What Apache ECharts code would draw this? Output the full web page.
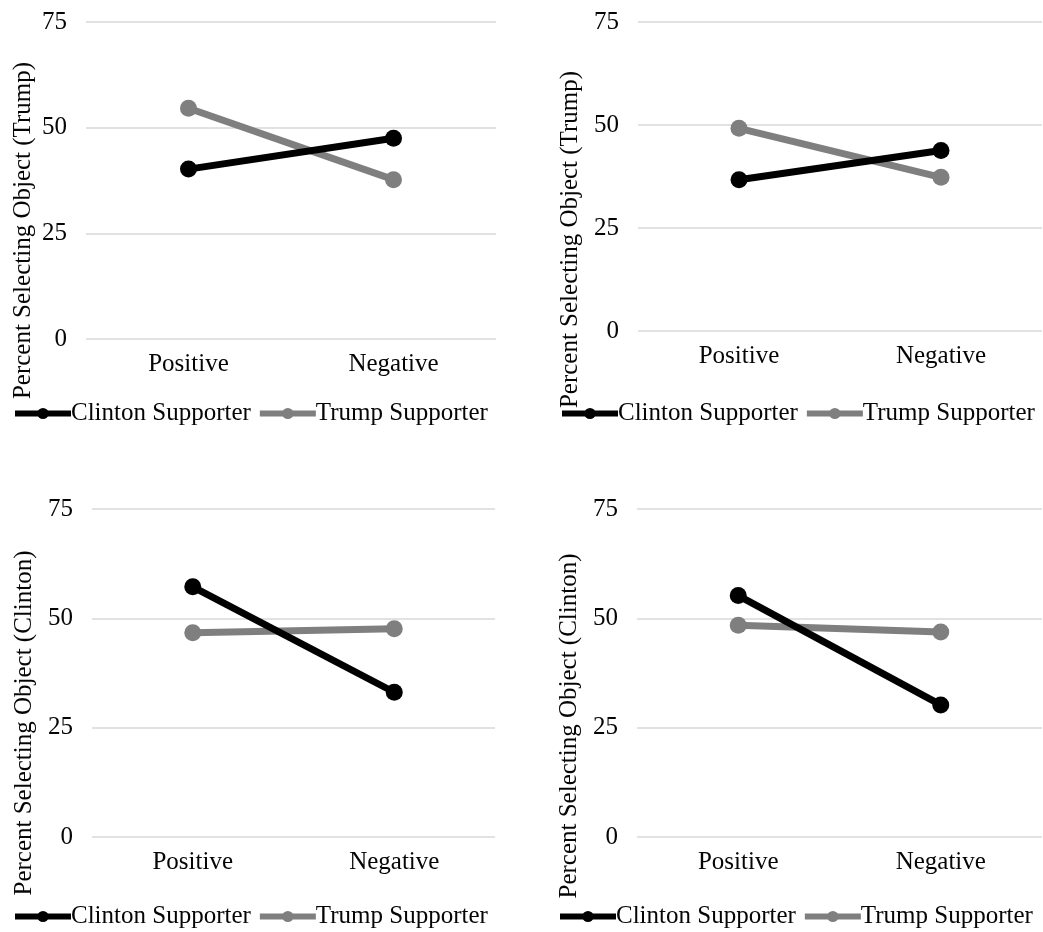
<!DOCTYPE html>
<html>
<head>
<meta charset="utf-8">
<script src="https://cdn.jsdelivr.net/npm/echarts@6/dist/echarts.min.js"></script>
<style>
html,body{margin:0;padding:0;background:#fff;}
#c{width:1043px;height:932px;}
</style>
</head>
<body>
<div id="c"></div>
<script>
var categories = ['Positive', 'Negative'];
var seriesNames = ['Clinton Supporter', 'Trump Supporter'];
var yTicks = [0, 25, 50, 75];
var panelTitles = ['Percent Selecting Object (Trump)', 'Percent Selecting Object (Trump)',
                   'Percent Selecting Object (Clinton)', 'Percent Selecting Object (Clinton)'];
var clinton1 = [40.2, 47.5];
var trump1 = [54.6, 37.7];
var clinton2 = [36.7, 43.8];
var trump2 = [49.2, 37.3];
var clinton3 = [57.2, 33.1];
var trump3 = [46.7, 47.6];
var clinton4 = [55.2, 30.2];
var trump4 = [48.4, 46.9];

var panelData = [[clinton1, trump1], [clinton2, trump2], [clinton3, trump3], [clinton4, trump4]];

var FONT = '"Liberation Serif", "Times New Roman", serif';
var colors = ['#000000', '#7f7f7f'];
var TXT = '#050505';

// layout per panel (pixels)
var layouts = [
  {left: 86, width: 410, top: 22, height: 317, legendLeft: 12, legendTop: 401, namePad: 100, nameGap: 50},
  {left: 638, width: 404, top: 22, height: 309, legendLeft: 559, legendTop: 401, namePad: 126, nameGap: 55},
  {left: 92, width: 403, top: 509, height: 328, legendLeft: 12, legendTop: 904, namePad: 100, nameGap: 55},
  {left: 637, width: 405, top: 509, height: 328, legendLeft: 557, legendTop: 904, namePad: 106, nameGap: 55}
];

var grids = [], xAxes = [], yAxes = [], series = [], legends = [];
layouts.forEach(function (L, i) {
  grids.push({left: L.left, top: L.top, width: L.width, height: L.height, containLabel: false});
  xAxes.push({
    type: 'category', gridIndex: i, data: categories, boundaryGap: true,
    axisLine: {show: false}, axisTick: {show: false},
    axisLabel: {fontFamily: FONT, fontSize: 25, color: TXT, margin: 13}
  });
  yAxes.push({
    type: 'value', gridIndex: i, min: yTicks[0], max: yTicks[yTicks.length - 1], interval: 25,
    axisLine: {show: false}, axisTick: {show: false},
    axisLabel: {fontFamily: FONT, fontSize: 25, color: TXT, margin: 19},
    splitLine: {lineStyle: {color: '#d9d9d9', width: 1.5}},
    name: panelTitles[i], nameLocation: 'middle', nameGap: L.nameGap,
    nameTextStyle: {fontFamily: FONT, fontSize: 25, color: TXT, padding: [0, L.namePad, 0, 0]}
  });
  seriesNames.forEach(function (nm, s) {
    series.push({
      name: nm, type: 'line', xAxisIndex: i, yAxisIndex: i,
      data: panelData[i][s], symbol: 'circle', symbolSize: 17,
      lineStyle: {color: colors[s], width: 7},
      itemStyle: {color: colors[s]},
      z: s === 0 ? 3 : 2
    });
  });
  legends.push({
    data: seriesNames, left: L.legendLeft, top: L.legendTop, itemGap: 6, padding: 0,
    itemWidth: 56, itemHeight: 14,
    textStyle: {fontFamily: FONT, fontSize: 25, color: TXT, padding: [0, 0, 0, -5]},
    lineStyle: {width: 6}
  });
});

var chart = echarts.init(document.getElementById('c'), null, {renderer: 'canvas'});
chart.setOption({
  animation: false,
  backgroundColor: '#ffffff',
  grid: grids, xAxis: xAxes, yAxis: yAxes, series: series, legend: legends
});
</script>
</body>
</html>
